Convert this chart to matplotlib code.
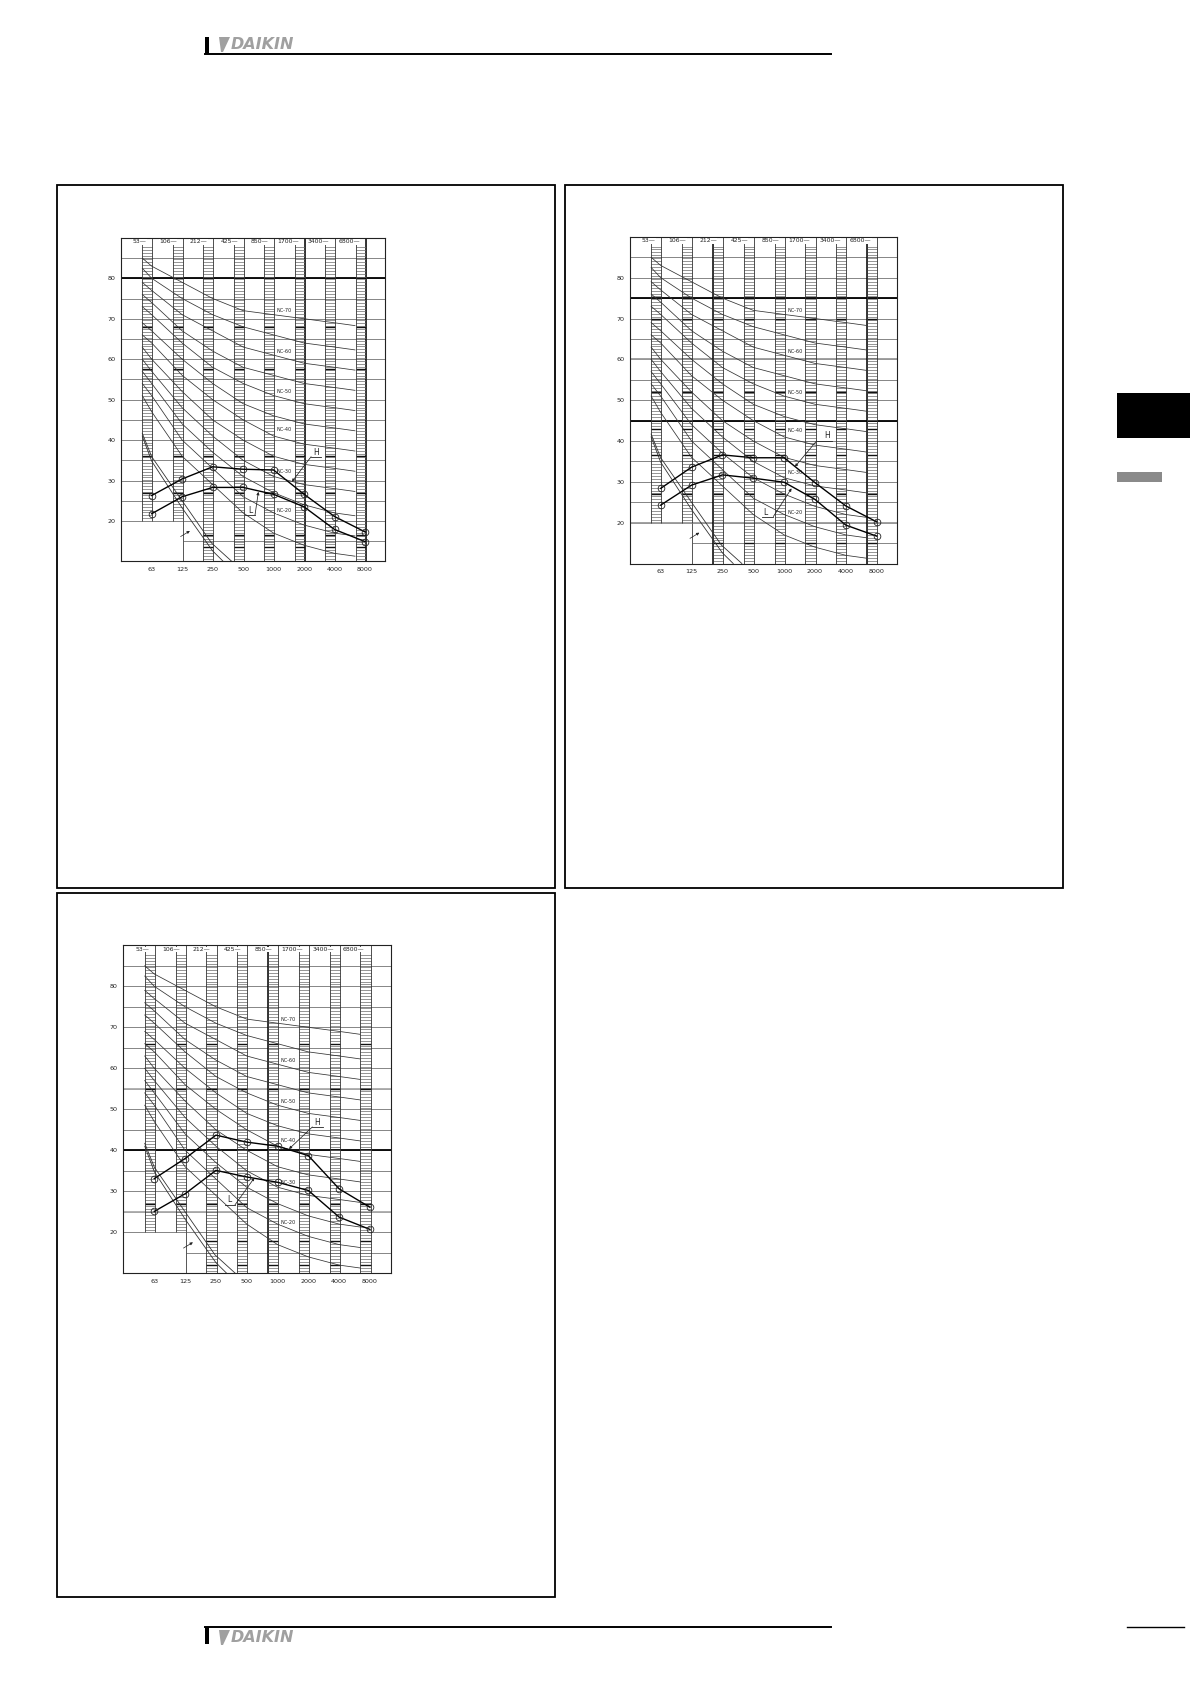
import numpy as np
import matplotlib.pyplot as plt
from matplotlib.patches import Rectangle, Polygon

W, H = 1190, 1684

# octave bands (bottom) and band edges (top row)
bands = ['63', '125', '250', '500', '1000', '2000', '4000', '8000']
edge_labels = ['53', '106', '212', '425', '850', '1700', '3400', '6800']
band_x = np.arange(len(bands))
y_ticks = [20, 30, 40, 50, 60, 70, 80]

# NC curves: start (53 Hz), 63 ... 4000, end at left edge of 8000 strip
nc_x = [-0.31, 0, 1, 2, 3, 4, 5, 6, 6.67]
nc70 = [85.0, 83, 79, 75, 72, 71, 70, 69, 68.3]
nc65 = [82.5, 80, 75, 71, 68, 66, 64, 63, 62.3]
nc60 = [79.0, 77, 71, 67, 63, 61, 59, 58, 57.3]
nc55 = [76.0, 74, 67, 62, 58, 56, 54, 53, 52.3]
nc50 = [73.0, 71, 64, 58, 54, 51, 49, 48, 47.3]
nc45 = [69.0, 67, 60, 54, 49, 46, 44, 43, 42.3]
nc40 = [66.0, 64, 56, 50, 45, 41, 39, 38, 37.3]
nc35 = [63.0, 60, 52, 45, 40, 36, 34, 33, 32.3]
nc30 = [60.0, 57, 48, 41, 35, 31, 29, 28, 27.3]
nc25 = [57.0, 54, 44, 37, 31, 27, 24, 22, 21.3]
nc20 = [54.0, 51, 40, 33, 26, 22, 19, 17, 16.3]
nc15 = [51.0, 47, 36, 29, 22, 17, 14, 12, 11.3]
nc_curves = [nc70, nc65, nc60, nc55, nc50, nc45, nc40, nc35, nc30, nc25, nc20, nc15]

nc_label_text = ['NC-70', 'NC-60', 'NC-50', 'NC-40', 'NC-30', 'NC-20']
nc_label_db = [72.0, 62.0, 52.0, 42.5, 32.2, 22.5]
nc_label_x = 4.35

# hearing threshold pair (lower left)
thr_a_x = [-0.31, 0, 0.98, 1.97, 2.63]
thr_a_y = [41.7, 35.9, 25.2, 14.5, 10.0]
thr_b_x = [-0.31, 0, 1, 2, 2.35]
thr_b_y = [41.0, 34.8, 23.2, 12.6, 10.0]
thr_arrow_tail = (0.87, 15.8)
thr_arrow_head = (1.33, 17.9)

# measured sound levels
c1_h = [26.3, 30.4, 33.4, 32.8, 32.6, 26.6, 21.1, 17.3]
c1_l = [21.8, 26.0, 28.3, 28.3, 26.6, 23.5, 17.9, 14.9]
c2_h = [28.4, 33.6, 36.6, 35.9, 35.9, 29.8, 24.1, 20.2]
c2_l = [24.3, 29.2, 31.7, 30.9, 29.9, 25.7, 19.4, 16.7]
c3_h = [33.1, 38.0, 43.7, 42.0, 41.0, 38.7, 30.6, 26.1]
c3_l = [25.1, 29.4, 35.1, 33.5, 32.2, 30.2, 23.7, 20.7]

charts = [
    dict(p0=151.7, s=30.48, y80=278.3, k=4.045, h=c1_h, l=c1_l,
         h_text=(5.38, 36.9), h_line=(5.23, 5.55, 35.9), h_from=(5.23, 35.9), h_tip=(4.6, 29.7),
         l_text=(3.23, 22.5), l_line=(3.06, 3.39, 21.5), l_from=(3.39, 21.5), l_tip=(3.5, 27.2),
         bold_h=[(80, 'black')], bold_v=[5.02, 7.02], rungs=[68, 57.5, 36, 27, 16.5, 13.5]),
    dict(p0=660.7, s=30.86, y80=277.7, k=4.083, h=c2_h, l=c2_l,
         h_text=(5.38, 41.3), h_line=(5.05, 5.54, 40.0), h_from=(5.05, 40.0), h_tip=(4.35, 33.7),
         l_text=(3.40, 22.5), l_line=(3.27, 3.65, 21.5), l_from=(3.65, 21.5), l_tip=(4.24, 28.4),
         bold_h=[(75, 'black'), (60, '#999999'), (45, 'black'), (20, '#999999')],
         bold_v=[1.68, 6.67], rungs=[70, 52, 43, 36.5, 27, 15]),
    dict(p0=154.3, s=30.81, y80=986.3, k=4.1, h=c3_h, l=c3_l,
         h_text=(5.30, 46.8), h_line=(5.13, 5.49, 45.7), h_from=(5.13, 45.7), h_tip=(4.37, 40.3),
         l_text=(2.44, 28.0), l_line=(2.29, 2.62, 26.7), l_from=(2.62, 26.7), l_tip=(3.25, 33.3),
         bold_h=[(40, 'black'), (55, '#aaaaaa'), (25, '#aaaaaa')],
         bold_v=[3.68], rungs=[66, 55, 27, 18, 12]),
]

XMIN, XMAX = -1.0, 7.67
YMIN, YMAX = 10, 90

fig = plt.figure(figsize=(W / 100, H / 100), dpi=100)
fig.patch.set_facecolor('white')

# page furniture
page = fig.add_axes([0, 0, 1, 1])
page.set_xlim(0, W)
page.set_ylim(H, 0)
page.axis('off')


def logo(x, y):
    page.add_patch(Polygon([(x, y), (x + 11, y), (x + 4, y + 15), (x + 2, y + 15)],
                           closed=True, color='#a0a0a0', lw=0))
    page.text(x + 12, y + 7.5, 'DAIKIN', color='#a0a0a0', fontsize=11.5,
              fontweight='bold', style='italic', va='center', ha='left',
              family=['Liberation Sans Narrow', 'DejaVu Sans'])


page.add_patch(Rectangle((205, 37), 4, 17, color='black', lw=0))
page.plot([205, 831], [54, 54], color='black', lw=1.4)
logo(219, 37)

page.plot([205, 831], [1627, 1627], color='black', lw=1.4)
page.plot([1127, 1184], [1627, 1627], color='black', lw=1.0)
page.add_patch(Rectangle((205, 1627), 4, 17, color='black', lw=0))
logo(219, 1630)

for bx, by, bw, bh in [(57, 185, 498, 703), (565, 185, 498, 703), (57, 893, 498, 704)]:
    page.add_patch(Rectangle((bx, by), bw, bh, fill=False, ec='black', lw=1.3))

page.add_patch(Rectangle((1117, 393), 73, 45, color='black', lw=0))
page.add_patch(Rectangle((1117, 472), 45, 10, color='#8a8a8a', lw=0))

grid_c = '#555555'
rung_y = np.arange(10.6, 88.3, 0.72)

for c in charts:
    left = c['p0'] + XMIN * c['s']
    width = (XMAX - XMIN) * c['s']
    top = c['y80'] - (YMAX - 80) * c['k']
    height = (YMAX - YMIN) * c['k']
    ax = fig.add_axes([left / W, 1 - (top + height) / H, width / W, height / H])
    ax.set_xlim(XMIN, XMAX)
    ax.set_ylim(YMIN, YMAX)
    ax.set_facecolor('white')
    for sp in ax.spines.values():
        sp.set_linewidth(0.8)
        sp.set_color('#222222')

    # horizontal grid, lower-left box kept empty
    for yv in range(15, 90, 5):
        x0 = 1.02 if yv < 20 else XMIN
        ax.hlines(yv, x0, XMAX, color=grid_c, lw=0.5, zorder=1)
    ax.vlines(1.02, YMIN, 20, color=grid_c, lw=0.7, zorder=1)
    for yv, col in c['bold_h']:
        x0 = 1.02 if yv < 20 else XMIN
        ax.hlines(yv, x0, XMAX, color=col, lw=1.3, zorder=1.5)
    for xv in c['bold_v']:
        ax.vlines(xv, YMIN, YMAX, color='black', lw=1.1, zorder=1.5)

    # hatched band strips
    for i, b in enumerate(band_x):
        lo = 20 if i < 2 else YMIN
        xl, xr = b - 0.31, b + 0.02
        ys = rung_y[rung_y > lo]
        ax.hlines(ys, xl, xr, color='#6a6a6a', lw=0.5, zorder=2)
        rb = [r for r in c['rungs'] if r > lo]
        ax.hlines(rb, xl, xr, color='#111111', lw=1.0, zorder=2.1)
        ax.vlines([xl, xr], lo, YMAX, color='#333333', lw=0.6, zorder=2.2)
        ax.text(xl + 0.14, 89.0, edge_labels[i] + '\u2014', ha='right', va='center',
                fontsize=4.4, color='#222222', zorder=3,
                bbox=dict(boxstyle='square,pad=0.05', fc='white', ec='none'))

    # NC curves
    for vals in nc_curves:
        ax.plot(nc_x, vals, color='#333333', lw=0.55, zorder=3)
    for txt, yv in zip(nc_label_text, nc_label_db):
        ax.text(nc_label_x, yv, txt, fontsize=3.6, ha='center', va='center', color='#222222',
                zorder=4, bbox=dict(boxstyle='square,pad=0.1', fc='white', ec='none'))

    # threshold curves
    ax.plot(thr_a_x, thr_a_y, color='#333333', lw=0.6, zorder=3)
    ax.plot(thr_b_x, thr_b_y, color='#333333', lw=0.6, zorder=3)
    ax.annotate('', xy=thr_arrow_head, xytext=thr_arrow_tail, zorder=5,
                arrowprops=dict(arrowstyle='-|>', lw=0.5, color='#222222', mutation_scale=4))

    # measured H / L
    for vals in (c['h'], c['l']):
        ax.plot(band_x, vals, color='black', lw=1.0, marker='o', ms=4.8,
                mfc='none', mec='#222222', mew=0.6, zorder=6)

    for key in ('h', 'l'):
        tx, ty = c[key + '_text']
        ax.text(tx, ty, key.upper(), fontsize=5.5, ha='center', va='center', color='#222222',
                zorder=7)
        x0, x1, yl = c[key + '_line']
        ax.plot([x0, x1], [yl, yl], color='#222222', lw=0.6, zorder=7)
        ax.annotate('', xy=c[key + '_tip'], xytext=c[key + '_from'], zorder=7,
                    arrowprops=dict(arrowstyle='-|>', lw=0.55, color='#222222',
                                    mutation_scale=4, shrinkA=0, shrinkB=0))

    ax.set_xticks(band_x)
    ax.set_xticklabels(bands, fontsize=4.6, color='#222222')
    ax.set_yticks(y_ticks)
    ax.set_yticklabels([str(v) for v in y_ticks], fontsize=4.6, color='#222222')
    ax.tick_params(length=0, pad=4)

fig.savefig('out.png', dpi=100, facecolor='white')
